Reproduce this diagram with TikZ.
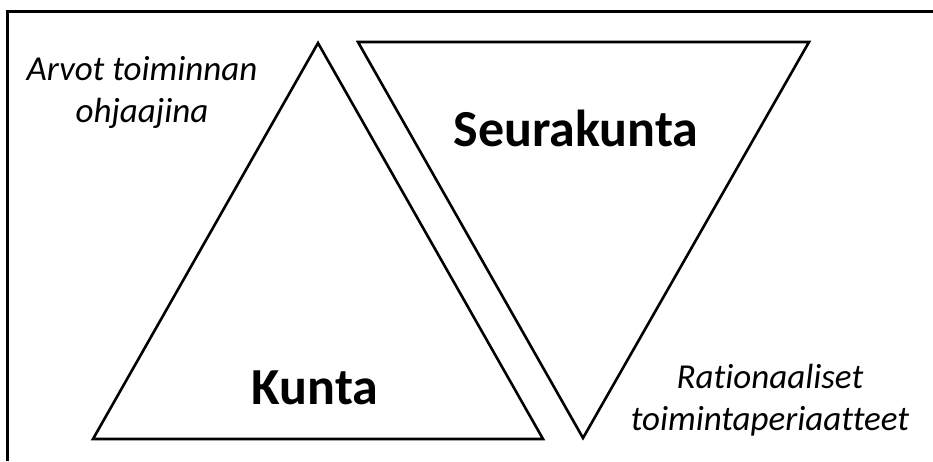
\documentclass[tikz,border=0pt]{standalone}
\usepackage{fontspec}
\setmainfont{Carlito}[Ligatures=NoCommon]
\usetikzlibrary{positioning}

\begin{document}
\begin{tikzpicture}[
    x=1pt, y=-1pt,
    thick,
    % Stile per i triangoli e le scritte
    tri/.style={line width=2.6pt, line join=miter},
    frame/.style={line width=3pt},
    title/.style={font=\fontsize{52}{58}\selectfont\bfseries},
    note/.style={font=\fontsize{35}{42}\selectfont\itshape, align=center}
]
    \useasboundingbox (0,0) rectangle (933,461);

    % Cornice (solo lati sinistro e superiore)
    \coordinate (fTop) at (933,11);
    \coordinate (fCorner) at (7,11);
    \coordinate (fBottom) at (7,461);
    \draw[frame] (fTop) -- (fCorner) -- (fBottom);

    % Vertici dei triangoli
    \coordinate (kApex) at (318,43);
    \coordinate (kLeft) at (93,439);
    \coordinate (kRight) at (543,439);
    \coordinate (sLeft) at (358,42);
    \coordinate (sRight) at (809,42);
    \coordinate (sApex) at (583,438);

    \draw[tri] (kApex) -- (kLeft) -- (kRight) -- cycle;
    \draw[tri] (sLeft) -- (sRight) -- (sApex) -- cycle;

    % Scritte
    \node[title] (seura) at (576,128) {Seurakunta};
    \node[title] (kunta) at (315,388) {Kunta};
    \node[note] (arvot) at (142,92) {Arvot toiminnan\\ohjaajina};
    \node[note] (ratio) at (770,400) {Rationaaliset\\toimintaperiaatteet};

\end{tikzpicture}
\end{document}
